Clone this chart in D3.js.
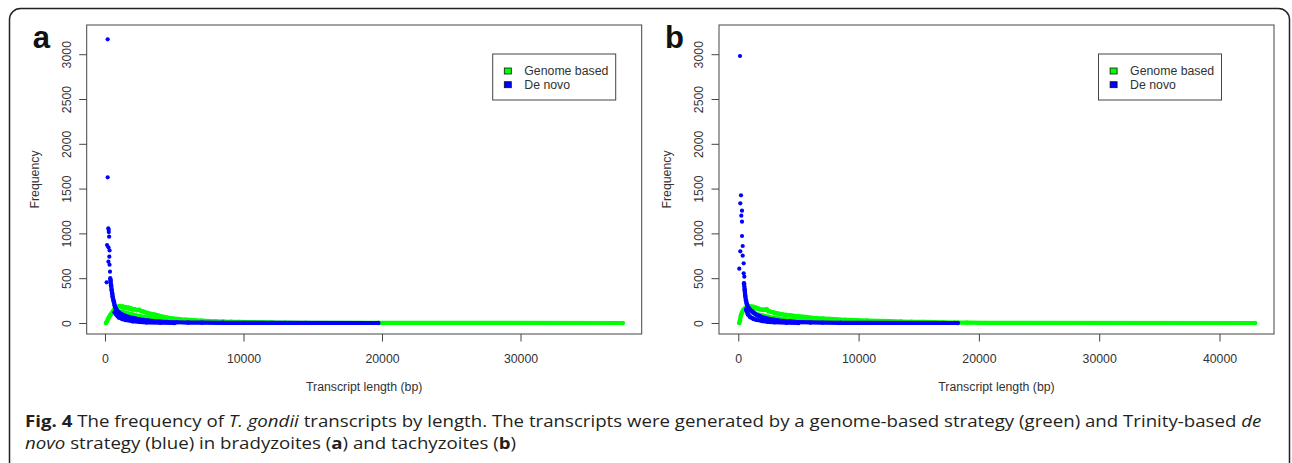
<!DOCTYPE html>
<html>
<head>
<meta charset="utf-8">
<script src="https://cdn.jsdelivr.net/npm/d3@7/dist/d3.min.js"></script>
<style>
  body { margin: 0; background: #fff; }
  svg { display: block; }
</style>
</head>
<body>
<svg id="fig" width="1292" height="463"></svg>
<script>
// ---------------------------------------------------------------------------
// Data: [transcript length (bp), frequency]
// ---------------------------------------------------------------------------

// panel a (bradyzoites)
const blueSpikeA = [
  [195, 3166], [195, 1626], [240, 1057], [265, 1040], [275, 1015], [300, 963],
  [150, 870], [250, 845], [330, 810], [313, 740], [250, 684], [330, 650],
  [361, 573], [120, 454], [380, 500]
];
const blueBandA = [
  [400, 480], [440, 420], [480, 370], [520, 330], [553, 294], [600, 260],
  [650, 230], [700, 195], [760, 170], [830, 150], [900, 135], [1000, 120],
  [1083, 108], [1200, 97], [1350, 86], [1500, 76], [1700, 66], [1850, 60],
  [2020, 55], [2250, 47], [2500, 40], [2800, 33], [3100, 27], [3500, 20],
  [3970, 15], [4500, 11], [5200, 8], [6000, 5], [7000, 3], [8500, 2],
  [10000, 1], [19730, 0]
];
// lower edge of the blue scatter
const blueLowA = [
  [700, 120], [850, 85], [1000, 62], [1250, 45], [1500, 33], [2000, 20],
  [2500, 12], [3000, 7], [4000, 3], [5000, 0]
];
const greenA = [
  [72, 0], [150, 20], [240, 52], [330, 75], [400, 92], [480, 108], [560, 128],
  [640, 148], [720, 164], [800, 172], [900, 178], [1000, 185], [1083, 190],
  [1200, 178], [1300, 185], [1400, 170], [1500, 178], [1600, 165], [1700, 172],
  [1800, 158], [1900, 162], [2000, 150], [2150, 155], [2300, 142], [2450, 148],
  [2600, 135], [2750, 128], [2900, 120], [3050, 112], [3200, 106], [3400, 100],
  [3600, 93], [3730, 88], [3900, 80], [4100, 73], [4300, 66], [4500, 60],
  [4700, 55], [4930, 50], [5200, 45], [5500, 40], [5800, 37], [6140, 34],
  [6500, 30], [7000, 26], [7500, 22], [8000, 19], [8540, 16], [9100, 14],
  [9700, 12], [10230, 10], [10800, 8], [11400, 7], [12130, 5], [13000, 3],
  [14500, 2], [16000, 1], [37380, 0]
];
// lower edge of the green scatter
const greenLowA = [
  [900, 130], [1200, 125], [1600, 110], [2000, 95], [2500, 78], [3000, 62],
  [3500, 48], [4000, 38], [5000, 24], [6000, 16], [7000, 11], [8000, 7],
  [10000, 4], [12000, 2]
];

// panel b (tachyzoites)
const blueSpikeB = [
  [141, 2980], [225, 1425], [166, 1336], [308, 1253], [250, 1198], [308, 1131],
  [308, 971], [366, 859], [166, 800], [366, 751], [450, 666], [83, 606],
  [450, 554], [500, 517]
];
const blueBandB = [
  [474, 443], [532, 368], [582, 301], [640, 250], [700, 215], [760, 190],
  [850, 170], [972, 150], [1100, 135], [1250, 118], [1413, 100], [1530, 90],
  [1700, 80], [1900, 70], [2245, 55], [2600, 45], [2910, 38], [3358, 28],
  [3800, 22], [4300, 17], [4738, 12], [5300, 9], [6000, 6], [7000, 4],
  [8500, 2], [10000, 1], [18240, 0]
];
const blueLowB = [
  [650, 150], [800, 95], [1000, 65], [1250, 48], [1500, 36], [2000, 22],
  [2500, 13], [3000, 8], [4000, 3], [5000, 0]
];
const greenB = [
  [83, 0], [140, 30], [200, 78], [283, 108], [350, 128], [416, 145], [480, 155],
  [557, 164], [650, 172], [750, 180], [831, 190], [950, 178], [1050, 185],
  [1150, 175], [1247, 182], [1350, 168], [1450, 172], [1530, 160], [1650, 162],
  [1800, 152], [1950, 150], [2100, 145], [2250, 150], [2360, 153], [2500, 132],
  [2700, 125], [2910, 118], [3100, 112], [3300, 105], [3500, 100], [3750, 94],
  [4000, 90], [4300, 86], [4600, 80], [5000, 74], [5300, 70], [5685, 66],
  [6000, 60], [6500, 55], [7070, 50], [7600, 45], [8200, 40], [8900, 36],
  [9840, 32], [10700, 27], [11600, 23], [12610, 20], [13500, 16], [14400, 14],
  [15380, 12], [16200, 10], [17040, 8], [18000, 5], [19000, 3], [20500, 1],
  [42950, 0]
];
const greenLowB = [
  [900, 125], [1200, 118], [1500, 100], [2000, 85], [2500, 70], [3000, 58],
  [3500, 48], [4000, 40], [5000, 30], [6000, 22], [7000, 16], [8000, 12],
  [10000, 7], [12000, 4], [14000, 2]
];

// axes / legend text
const yTicks = [0, 500, 1000, 1500, 2000, 2500, 3000];
const xTicksA = [0, 10000, 20000, 30000];
const xTicksB = [0, 10000, 20000, 30000, 40000];
const legendLabels = ["Genome based", "De novo"];

// ---------------------------------------------------------------------------
// Setup
// ---------------------------------------------------------------------------
const GREEN = "#00ff00";
const BLUE = "#0000ff";
const FONT = "'Liberation Sans', Arial, sans-serif";
const FS = 12.3;

const svg = d3.select("#fig");
svg.append("rect").attr("width", 1292).attr("height", 463).attr("fill", "#fff");

// outer rounded frame (continues below the crop)
svg.append("rect")
  .attr("x", 9.5).attr("y", 8.5)
  .attr("width", 1280).attr("height", 520)
  .attr("rx", 11)
  .attr("fill", "none")
  .attr("stroke", "#222")
  .attr("stroke-width", 1.5);

const plotTop = 25, plotBottom = 334;
const yDomain = [-123, 3326];

const panels = [
  { label: "a", left: 86.7, right: 641.7, xDomain: [-1320, 38750], xTicks: xTicksA,
    green: [greenA, greenLowA], blueSpike: blueSpikeA, blue: [blueBandA, blueLowA],
    legendX: 492.7 },
  { label: "b", left: 719, right: 1274, xDomain: [-1604, 44530], xTicks: xTicksB,
    green: [greenB, greenLowB], blueSpike: blueSpikeB, blue: [blueBandB, blueLowB],
    legendX: 1098.5 }
];

function drawPanel(p) {
  const g = svg.append("g");
  const x = d3.scaleLinear().domain(p.xDomain).range([p.left, p.right]);
  const y = d3.scaleLinear().domain(yDomain).range([plotBottom, plotTop]);
  const line = d3.line().x(d => x(d[0])).y(d => y(d[1]));

  // dense runs of points look like a thick band: draw the run + its dots
  function band(data, color) {
    g.append("path").datum(data)
      .attr("d", line)
      .attr("fill", "none")
      .attr("stroke", color)
      .attr("stroke-width", 4.2)
      .attr("stroke-linejoin", "round")
      .attr("stroke-linecap", "round");
    g.append("g").selectAll("circle")
      .data(data)
      .join("circle")
      .attr("cx", d => x(d[0]))
      .attr("cy", d => y(d[1]))
      .attr("r", 2.2)
      .attr("fill", color);
  }
  // green first, blue drawn over it (as in the original)
  p.green.forEach(d => band(d, GREEN));
  p.blue.forEach(d => band(d, BLUE));
  g.append("g").selectAll("circle")
    .data(p.blueSpike)
    .join("circle")
    .attr("cx", d => x(d[0]))
    .attr("cy", d => y(d[1]))
    .attr("r", 2.1)
    .attr("fill", BLUE);

  // box
  g.append("rect")
    .attr("x", p.left).attr("y", plotTop)
    .attr("width", p.right - p.left).attr("height", plotBottom - plotTop)
    .attr("fill", "none")
    .attr("stroke", "#444")
    .attr("stroke-width", 1);

  // x axis
  g.append("g")
    .attr("transform", `translate(0,${plotBottom})`)
    .call(d3.axisBottom(x).tickValues(p.xTicks).tickSize(7.5).tickFormat(d3.format("d")))
    .call(a => a.select(".domain").remove())
    .call(a => a.selectAll("line").attr("stroke", "#444"))
    .call(a => a.selectAll("text")
      .attr("y", 28.5).attr("dy", null)
      .attr("fill", "#333")
      .attr("font-family", FONT).attr("font-size", FS));

  // y axis, labels parallel to the axis
  g.append("g")
    .attr("transform", `translate(${p.left},0)`)
    .call(d3.axisLeft(y).tickValues(yTicks).tickSize(7.5).tickFormat(d3.format("d")))
    .call(a => a.select(".domain").remove())
    .call(a => a.selectAll("line").attr("stroke", "#444"))
    .call(a => a.selectAll("text")
      .attr("x", null).attr("dy", null)
      .attr("transform", "translate(-15.7,0) rotate(-90)")
      .attr("text-anchor", "middle")
      .attr("fill", "#333")
      .attr("font-family", FONT).attr("font-size", FS));

  // axis titles
  g.append("text")
    .attr("x", (p.left + p.right) / 2).attr("y", 391)
    .attr("text-anchor", "middle")
    .attr("font-family", FONT).attr("font-size", FS).attr("fill", "#333")
    .text("Transcript length (bp)");
  g.append("text")
    .attr("transform", `translate(${p.left - 47.7},${(plotTop + plotBottom) / 2}) rotate(-90)`)
    .attr("text-anchor", "middle")
    .attr("font-family", FONT).attr("font-size", FS).attr("fill", "#333")
    .text("Frequency");

  // panel letter
  g.append("text")
    .attr("x", p.left - 54).attr("y", 48)
    .attr("font-family", FONT).attr("font-weight", "bold").attr("font-size", 31)
    .attr("fill", "#111")
    .text(p.label);

  // legend
  const lg = g.append("g").attr("transform", `translate(${p.legendX},54)`);
  lg.append("rect")
    .attr("width", 123).attr("height", 46)
    .attr("fill", "#fff").attr("stroke", "#444").attr("stroke-width", 1);
  const items = lg.selectAll("g.item")
    .data(legendLabels.map((t, i) => ({ t, c: [GREEN, BLUE][i] })))
    .join("g")
    .attr("class", "item")
    .attr("transform", (d, i) => `translate(0,${17 + i * 13.7})`);
  items.append("rect")
    .attr("x", 11.6).attr("y", -3).attr("width", 7).attr("height", 6)
    .attr("fill", d => d.c).attr("stroke", "#111").attr("stroke-width", 0.8);
  items.append("text")
    .attr("x", 31.6).attr("y", 4.4)
    .attr("font-family", FONT).attr("font-size", FS).attr("fill", "#333")
    .text(d => d.t);
}

panels.forEach(drawPanel);

// ---------------------------------------------------------------------------
// Caption
// ---------------------------------------------------------------------------
const captionLines = [
  [["Fig. 4", "b"], [" The frequency of "], ["T. gondii", "i"],
   [" transcripts by length. The transcripts were generated by a genome-based strategy (green) and Trinity-based "],
   ["de", "i"]],
  [["novo", "i"], [" strategy (blue) in bradyzoites ("], ["a", "b"], [") and tachyzoites ("],
   ["b", "b"], [")"]]
];
const capBase = [427, 449];
const capNodes = captionLines.map((parts, i) => {
  const t = svg.append("text")
    .attr("font-family", "'Open Sans', 'Noto Sans', sans-serif")
    .attr("font-size", 16)
    .attr("fill", "#231f20")
    .attr("xml:space", "preserve");
  parts.forEach(([s, st]) => {
    t.append("tspan")
      .attr("font-weight", st === "b" ? "bold" : null)
      .attr("font-style", st === "i" ? "italic" : null)
      .text(s);
  });
  return t;
});
// squeeze horizontally so the first line spans the same width as the original
const w1 = capNodes[0].node().getComputedTextLength();
const sx = 1237 / w1;
capNodes.forEach((t, i) => t.attr("transform", `translate(25,${capBase[i]}) scale(${sx},1)`));
</script>
</body>
</html>
